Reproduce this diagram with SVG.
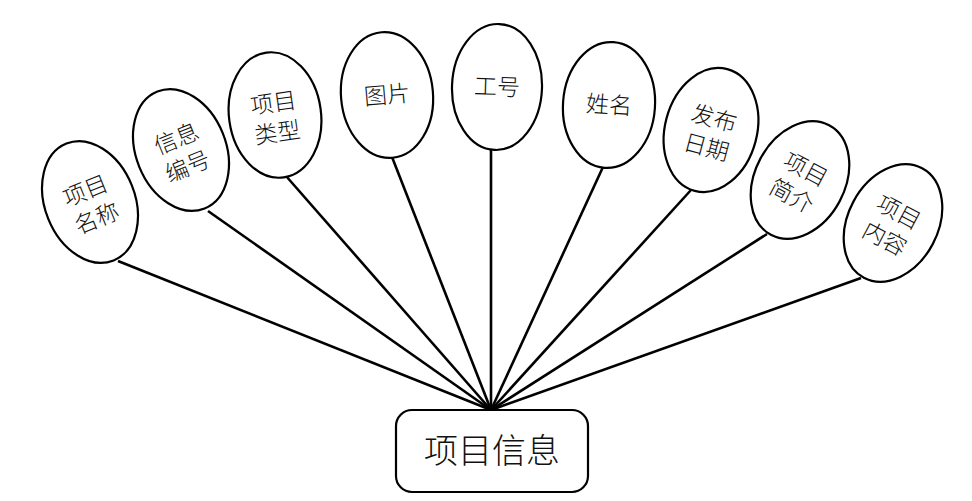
<svg xmlns="http://www.w3.org/2000/svg" width="972" height="501" viewBox="0 0 972 501">
<style>
.e{fill:#fff;stroke:#000;stroke-width:2.2}
.t{font-family:"Liberation Serif","Noto Sans CJK SC",serif;font-size:23px;font-weight:300;text-anchor:middle;fill:#111}
.c line{stroke:#000;stroke-width:2.6}
</style>
<rect width="972" height="501" fill="#fff"/>
<g class="c">
<line x1="491" y1="410" x2="118" y2="261"/>
<line x1="491" y1="410" x2="208" y2="211"/>
<line x1="491" y1="410" x2="286" y2="176"/>
<line x1="491" y1="410" x2="392" y2="157"/>
<line x1="491" y1="410" x2="491" y2="149"/>
<line x1="491" y1="410" x2="603" y2="167"/>
<line x1="491" y1="410" x2="691" y2="190"/>
<line x1="491" y1="410" x2="767" y2="234"/>
<line x1="491" y1="410" x2="861" y2="278"/>
</g>
<g id="n1" transform="translate(90,202) rotate(-22)"><ellipse class="e" rx="45" ry="63"/><text class="t" y="-4">项目</text><text class="t" y="26">名称</text></g>
<g id="n2" transform="translate(181,150) rotate(-22)"><ellipse class="e" rx="45" ry="63"/><text class="t" y="-4">信息</text><text class="t" y="26">编号</text></g>
<g id="n3" transform="translate(275,115) rotate(-8)"><ellipse class="e" rx="46" ry="63"/><text class="t" y="-4">项目</text><text class="t" y="26">类型</text></g>
<g id="n4" transform="translate(387,95) rotate(-5)"><ellipse class="e" rx="46" ry="63"/><text class="t" y="8">图片</text></g>
<g id="n5" transform="translate(497,87) rotate(2)"><ellipse class="e" rx="45" ry="63"/><text class="t" y="8">工号</text></g>
<g id="n6" transform="translate(609,105) rotate(4)"><ellipse class="e" rx="46" ry="63"/><text class="t" y="8">姓名</text></g>
<g id="n7" transform="translate(711,130) rotate(15)"><ellipse class="e" rx="46" ry="63"/><text class="t" y="-4">发布</text><text class="t" y="26">日期</text></g>
<g id="n8" transform="translate(800,180) rotate(28)"><ellipse class="e" rx="45" ry="62"/><text class="t" y="-4">项目</text><text class="t" y="26">简介</text></g>
<g id="n9" transform="translate(893,223) rotate(28)"><ellipse class="e" rx="45" ry="62"/><text class="t" y="-4">项目</text><text class="t" y="26">内容</text></g>
<g id="main"><rect x="396" y="410" width="192" height="82" rx="16" fill="#fff" stroke="#000" stroke-width="2.2"/><text x="492" y="463" style="font-family:'Liberation Serif','Noto Sans CJK SC',serif;font-size:34px;font-weight:300;text-anchor:middle;fill:#111">项目信息</text></g>
</svg>
